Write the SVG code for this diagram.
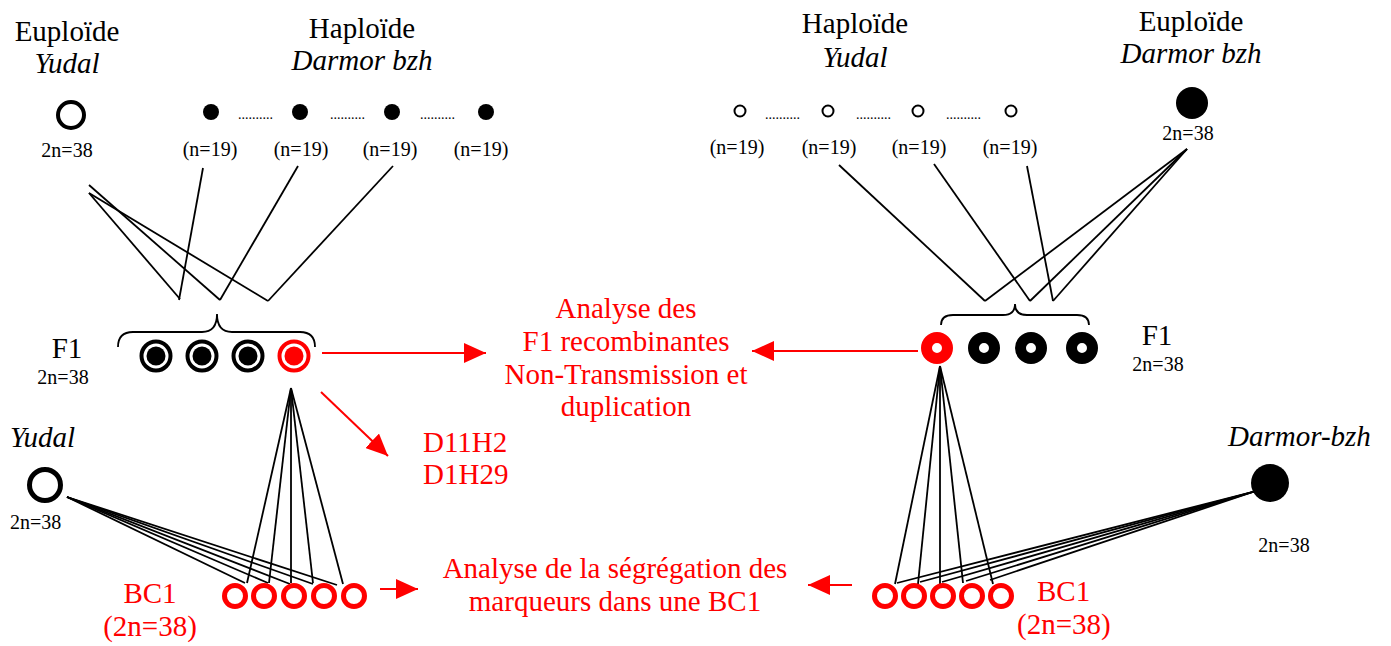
<svg xmlns="http://www.w3.org/2000/svg" width="1391" height="646" viewBox="0 0 1391 646">
<defs>
<style>
text{font-family:"Liberation Serif","Times New Roman",serif;fill:#000}
.big{font-size:29px}
.sm{font-size:20px}
.it{font-style:italic}
.red{fill:#ff0000}
.mid{text-anchor:middle}
.dots{font-size:14px}
.ln{stroke:#000;stroke-width:1.8;fill:none}
.arr{stroke:#ff0000;stroke-width:2;fill:none;marker-end:url(#ah)}
.ring{fill:none;stroke:#000;stroke-width:4}
.rring{fill:none;stroke:#ff0000;stroke-width:4}
.bc{fill:none;stroke:#ff0000;stroke-width:5}
</style>
<marker id="ah" viewBox="0 0 22 20" refX="22" refY="10" markerWidth="22" markerHeight="20" markerUnits="userSpaceOnUse" orient="auto">
<path d="M0,0 L22,10 L0,20 Z" fill="#ff0000"/>
</marker>
</defs>
<rect width="1391" height="646" fill="#fff"/>

<g id="connectors">
<!-- top left to F1 -->
<line class="ln" x1="89" y1="193" x2="180" y2="299"/>
<line class="ln" x1="89" y1="185" x2="220" y2="300"/>
<line class="ln" x1="89" y1="193" x2="268" y2="301"/>
<line class="ln" x1="203" y1="168" x2="179" y2="300"/>
<line class="ln" x1="298" y1="166" x2="220" y2="300"/>
<line class="ln" x1="393" y1="166" x2="268" y2="301"/>
<!-- top right to F1 -->
<line class="ln" x1="839" y1="165" x2="985" y2="301"/>
<line class="ln" x1="934" y1="164" x2="1030" y2="301"/>
<line class="ln" x1="1027" y1="166" x2="1053" y2="301"/>
<line class="ln" x1="1187" y1="149" x2="985" y2="301"/>
<line class="ln" x1="1187" y1="149" x2="1030" y2="301"/>
<line class="ln" x1="1187" y1="149" x2="1053" y2="301"/>
<!-- left F1 to BC1 -->
<line class="ln" x1="291" y1="388" x2="247" y2="583"/>
<line class="ln" x1="291" y1="388" x2="269" y2="583"/>
<line class="ln" x1="291" y1="388" x2="291" y2="583"/>
<line class="ln" x1="291" y1="388" x2="313" y2="583"/>
<line class="ln" x1="291" y1="388" x2="343" y2="584"/>
<!-- left Yudal to BC1 -->
<line class="ln" x1="67" y1="497" x2="245" y2="583"/>
<line class="ln" x1="67" y1="497" x2="268" y2="583"/>
<line class="ln" x1="67" y1="497" x2="290" y2="584"/>
<line class="ln" x1="67" y1="497" x2="313" y2="584"/>
<line class="ln" x1="67" y1="497" x2="337" y2="585"/>
<!-- right F1 to BC1 -->
<line class="ln" x1="940" y1="366" x2="895" y2="584"/>
<line class="ln" x1="940" y1="366" x2="918" y2="584"/>
<line class="ln" x1="940" y1="366" x2="940" y2="584"/>
<line class="ln" x1="940" y1="366" x2="963" y2="583"/>
<line class="ln" x1="940" y1="366" x2="993" y2="584"/>
<!-- right Darmor to BC1 -->
<line class="ln" x1="1256" y1="491" x2="897" y2="583"/>
<line class="ln" x1="1256" y1="491" x2="920" y2="582"/>
<line class="ln" x1="1256" y1="491" x2="942" y2="582"/>
<line class="ln" x1="1256" y1="491" x2="966" y2="581"/>
<line class="ln" x1="1256" y1="491" x2="990" y2="580"/>
<!-- braces -->
<path class="ln" d="M118,347 Q118,332 133,332 L202,332 Q217,332 217,314 Q217,332 232,332 L300,332 Q315,332 315,347"/>
<path class="ln" d="M941,325 Q941,315 953,315 L1003,315 Q1015,315 1015,304 Q1015,315 1027,315 L1077,315 Q1089,315 1089,325"/>
<!-- red arrows -->
<line class="arr" x1="322" y1="353" x2="486" y2="353"/>
<line class="arr" x1="321" y1="392" x2="388" y2="456"/>
<line class="arr" x1="918" y1="351" x2="752" y2="351"/>
<line class="arr" x1="380" y1="589" x2="418" y2="589"/>
<line class="arr" x1="852" y1="585" x2="808" y2="585"/>
</g>

<g id="euploide-yudal">
<text class="big mid" x="67" y="41">Euploïde</text>
<text class="big mid it" x="67" y="73">Yudal</text>
<circle class="ring" cx="71" cy="115" r="13"/>
<text class="sm mid" x="67" y="157">2n=38</text>
</g>

<g id="haploide-darmor">
<text class="big mid" x="362" y="38">Haploïde</text>
<text class="big mid it" x="362" y="70">Darmor bzh</text>
<circle cx="211" cy="112" r="8"/>
<circle cx="300" cy="112" r="8"/>
<circle cx="392" cy="112" r="8"/>
<circle cx="486" cy="112" r="8"/>
<text class="dots" x="238" y="119">..........</text>
<text class="dots" x="330" y="119">..........</text>
<text class="dots" x="420" y="119">..........</text>
<text class="sm mid" x="210" y="156">(n=19)</text>
<text class="sm mid" x="301" y="156">(n=19)</text>
<text class="sm mid" x="390" y="156">(n=19)</text>
<text class="sm mid" x="481" y="156">(n=19)</text>
</g>

<g id="haploide-yudal">
<text class="big mid" x="855" y="33">Haploïde</text>
<text class="big mid it" x="855" y="67">Yudal</text>
<circle cx="740" cy="111" r="5.5" fill="none" stroke="#000" stroke-width="2"/>
<circle cx="828" cy="111" r="5.5" fill="none" stroke="#000" stroke-width="2"/>
<circle cx="918" cy="111" r="5.5" fill="none" stroke="#000" stroke-width="2"/>
<circle cx="1011" cy="111" r="5.5" fill="none" stroke="#000" stroke-width="2"/>
<text class="dots" x="765" y="119">..........</text>
<text class="dots" x="856" y="119">..........</text>
<text class="dots" x="946" y="119">..........</text>
<text class="sm mid" x="737" y="154">(n=19)</text>
<text class="sm mid" x="829" y="154">(n=19)</text>
<text class="sm mid" x="919" y="154">(n=19)</text>
<text class="sm mid" x="1010" y="154">(n=19)</text>
</g>

<g id="euploide-darmor">
<text class="big mid" x="1191" y="31">Euploïde</text>
<text class="big mid it" x="1191" y="63">Darmor bzh</text>
<circle cx="1192" cy="103" r="16"/>
<text class="sm mid" x="1188" y="140">2n=38</text>
</g>

<g id="f1-left">
<text class="big mid" x="67" y="358">F1</text>
<text class="sm mid" x="63" y="384">2n=38</text>
<circle class="ring" cx="156" cy="356" r="14.5"/><circle cx="156" cy="356" r="9.5"/>
<circle class="ring" cx="202" cy="356" r="14.5"/><circle cx="202" cy="356" r="9.5"/>
<circle class="ring" cx="248" cy="356" r="14.5"/><circle cx="248" cy="356" r="9.5"/>
<circle class="rring" cx="294" cy="356" r="14.5"/><circle cx="294" cy="356" r="9.5" fill="#ff0000"/>
</g>

<g id="f1-right">
<circle cx="937" cy="348" r="10.5" fill="none" stroke="#ff0000" stroke-width="11"/>
<circle cx="984" cy="348" r="10.5" fill="none" stroke="#000" stroke-width="11"/>
<circle cx="1031" cy="348" r="10.5" fill="none" stroke="#000" stroke-width="11"/>
<circle cx="1082" cy="348" r="10.5" fill="none" stroke="#000" stroke-width="11"/>
<text class="big mid" x="1157" y="345">F1</text>
<text class="sm mid" x="1158" y="371">2n=38</text>
</g>

<g id="analyse-f1">
<text class="big mid red" x="626" y="318">Analyse des</text>
<text class="big mid red" x="626" y="351">F1 recombinantes</text>
<text class="big mid red" x="626" y="384">Non-Transmission et</text>
<text class="big mid red" x="626" y="416">duplication</text>
</g>

<g id="markers">
<text class="big red" x="423" y="452">D11H2</text>
<text class="big red" x="423" y="484">D1H29</text>
</g>

<g id="yudal-bc">
<text class="big it" x="10" y="447">Yudal</text>
<circle cx="45" cy="485" r="15.5" fill="none" stroke="#000" stroke-width="5"/>
<text class="sm" x="10" y="529">2n=38</text>
</g>

<g id="darmor-bc">
<text class="big it" x="1228" y="446">Darmor-bzh</text>
<circle cx="1270" cy="483" r="19"/>
<text class="sm mid" x="1284" y="552">2n=38</text>
</g>

<g id="bc1-left">
<circle class="bc" cx="235" cy="596" r="10.5"/>
<circle class="bc" cx="264" cy="596" r="10.5"/>
<circle class="bc" cx="294" cy="596" r="10.5"/>
<circle class="bc" cx="324" cy="596" r="10.5"/>
<circle class="bc" cx="354" cy="596" r="10.5"/>
<text class="big mid red" x="150" y="603">BC1</text>
<text class="big mid red" x="150" y="636">(2n=38)</text>
</g>

<g id="bc1-right">
<circle class="bc" cx="885" cy="596" r="10.5"/>
<circle class="bc" cx="914" cy="596" r="10.5"/>
<circle class="bc" cx="943" cy="596" r="10.5"/>
<circle class="bc" cx="972" cy="596" r="10.5"/>
<circle class="bc" cx="1001" cy="596" r="10.5"/>
<text class="big red" x="1037" y="601">BC1</text>
<text class="big red" x="1017" y="634">(2n=38)</text>
</g>

<g id="analyse-bc1">
<text class="big mid red" x="615" y="578">Analyse de la ségrégation des</text>
<text class="big mid red" x="615" y="611">marqueurs dans une BC1</text>
</g>
</svg>
